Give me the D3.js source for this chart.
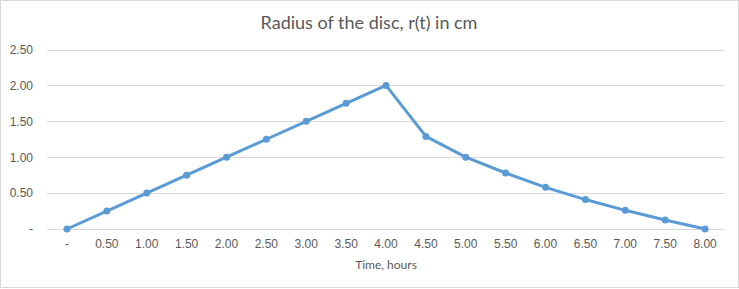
<!DOCTYPE html>
<html>
<head>
<meta charset="utf-8">
<script src="https://cdn.jsdelivr.net/npm/d3@7"></script>
<style>
    body { margin: 0; background: #fff; }
    svg { display: block; font-family: Lato, "Open Sans", sans-serif; }
</style>
</head>
<body>
<div id="chart"></div>
<script>
// time in hours, radius in cm
const times = [0, 0.5, 1, 1.5, 2, 2.5, 3, 3.5, 4, 4.5, 5, 5.5, 6, 6.5, 7, 7.5, 8];
const radius = [0, 0.25, 0.5, 0.75, 1.0, 1.25, 1.5, 1.75, 2.0, 1.29, 1.0, 0.78, 0.58, 0.41, 0.26, 0.125, 0];
const yTicks = [0, 0.5, 1, 1.5, 2, 2.5];

const W = 739, H = 289;
const plot = {left: 47, right: 725, top: 49.5, bottom: 229};
const textColor = '#595959';
const gridColor = '#d9d9d9';
const lineColor = '#5b9bd5';

// excel accounting format: zero shows as a dash
const fmt = (v) => v === 0 ? '-' : d3.format('.2f')(v);

const svg = d3.select('#chart')
    .append('svg')
    .attr('width', W)
    .attr('height', H);

svg.append('rect')
    .attr('x', 0.5).attr('y', 0.5)
    .attr('width', W - 1).attr('height', H - 2)
    .attr('fill', '#fff')
    .attr('stroke', gridColor);

const x = d3.scaleBand()
    .domain(times)
    .range([plot.left, plot.right]);

const y = d3.scaleLinear()
    .domain([0, 2.5])
    .range([plot.bottom, plot.top]);

// gridlines + y labels
const yAxis = svg.append('g')
    .attr('transform', `translate(${plot.left},0)`)
    .call(d3.axisLeft(y).tickValues(yTicks).tickFormat(fmt)
        .tickSize(-(plot.right - plot.left)).tickPadding(14));
yAxis.select('.domain').remove();
yAxis.selectAll('line').attr('stroke', gridColor).attr('shape-rendering', 'crispEdges');
yAxis.selectAll('text')
    .attr('fill', textColor)
    .style('font-size', '12px');

// x labels
const xAxis = svg.append('g')
    .attr('transform', `translate(0,${plot.bottom})`)
    .call(d3.axisBottom(x).tickFormat(fmt).tickSize(0).tickPadding(10));
xAxis.select('.domain').remove();
xAxis.selectAll('text')
    .attr('fill', textColor)
    .style('font-size', '12px');

const cx = (d) => x(d) + x.bandwidth() / 2;

const line = d3.line()
    .x((d, i) => cx(times[i]))
    .y((d) => y(d));

svg.append('path')
    .datum(radius)
    .attr('d', line)
    .attr('fill', 'none')
    .attr('stroke', lineColor)
    .attr('stroke-width', 3)
    .attr('stroke-linejoin', 'round');

svg.append('g')
    .selectAll('circle')
    .data(radius)
    .join('circle')
    .attr('cx', (d, i) => cx(times[i]))
    .attr('cy', (d) => y(d))
    .attr('r', 3.5)
    .attr('fill', lineColor);

svg.append('text')
    .attr('x', (plot.left + plot.right) / 2 - 17)
    .attr('y', 29)
    .attr('text-anchor', 'middle')
    .attr('fill', textColor)
    .style('font-size', '18px')
    .text('Radius of the disc, r(t) in cm');

svg.append('text')
    .attr('x', (plot.left + plot.right) / 2)
    .attr('y', 269)
    .attr('text-anchor', 'middle')
    .attr('fill', textColor)
    .style('font-size', '12px')
    .text('Time, hours');
</script>
</body>
</html>
